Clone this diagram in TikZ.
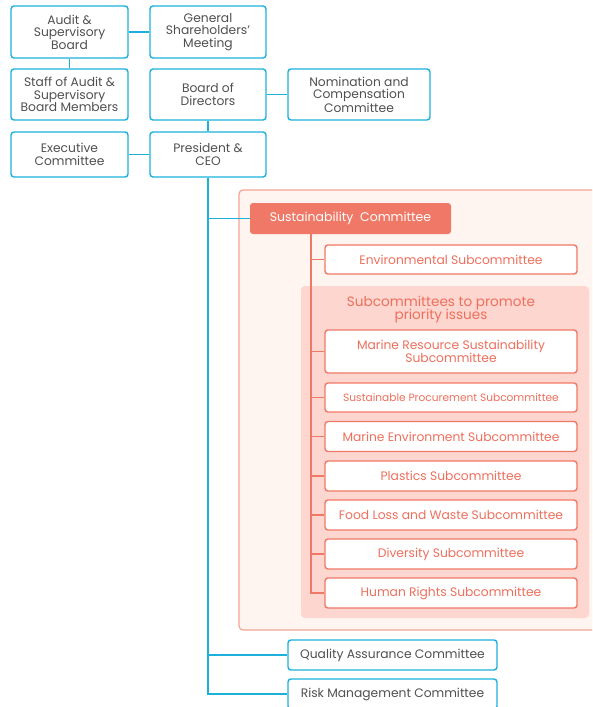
\documentclass[tikz,border=0pt]{standalone}
\usepackage{fontspec}
\setmainfont{Poppins}
\usepackage{tikz}
\usetikzlibrary{calc,positioning}
\usepackage{xcolor}
\definecolor{govblue}{HTML}{1BB1DB}
\definecolor{txtgrey}{HTML}{505050}
\definecolor{salmon}{HTML}{F07866}
\definecolor{salmontxt}{HTML}{EE6F5C}
\definecolor{panelline}{HTML}{F4A595}
\definecolor{panelbg}{HTML}{FEF4F0}
\definecolor{pinkpanel}{HTML}{FDD6D0}

\begin{document}
\begin{tikzpicture}[x=1pt,y=-1pt,
  govbox/.style={draw=govblue,line width=1.4pt,rounded corners=3pt,fill=white,
    text=txtgrey,align=center,inner sep=0pt,font=\fontsize{12.3}{12.5}\selectfont},
  govline/.style={draw=govblue,line width=1.4pt},
  subbox/.style={draw=salmon,line width=1.4pt,rounded corners=3pt,fill=white,
    text=salmontxt,align=center,inner sep=0pt,minimum width=252,minimum height=30,
    font=\fontsize{12.3}{12.5}\selectfont},
  subline/.style={draw=salmon,line width=1.4pt}]

  % Page frame
  \clip (0,0) rectangle (592,707);
  \fill[white] (0,0) rectangle (592,707);

  % Sustainability panels
  \draw[fill=panelbg,draw=panelline,line width=1.2pt,rounded corners=4pt]
    (239,190) rectangle (610,630);
  \fill[pinkpanel,rounded corners=4pt] (301,286) rectangle (589,618);
  \node[text=salmontxt,align=center,font=\fontsize{13.6}{12}\selectfont] (prio) at (441,309.5)
    {Subcommittees to promote\\[-2.5pt]priority issues};

  % Governance boxes
  \node[govbox,minimum width=117,minimum height=52] (audit) at (69.5,32) {Audit \&\\Supervisory\\Board};
  \node[govbox,minimum width=116,minimum height=52] (gsm) at (208,32) {General\\Shareholders'\\Meeting};
  \node[govbox,minimum width=117,minimum height=51] (staff) at (69.5,94.5) {Staff of Audit \&\\Supervisory\\Board Members};
  \node[govbox,minimum width=116,minimum height=51] (bod) at (208,94.5) {Board of\\Directors};
  \node[govbox,minimum width=142,minimum height=51] (nom) at (359,94.5) {Nomination and\\Compensation\\Committee};
  \node[govbox,minimum width=117,minimum height=45] (exec) at (69.5,154.5) {Executive\\Committee};
  \node[govbox,minimum width=116,minimum height=45] (ceo) at (208,154.5) {President \&\\CEO};
  \node[govbox,minimum width=209,minimum height=30] (qa) at (392.5,655) {Quality Assurance Committee};
  \node[govbox,minimum width=209,minimum height=30] (risk) at (392.5,694) {Risk Management Committee};

  % Sustainability committee and subcommittees
  \node[fill=salmon,rounded corners=3pt,text=white,minimum width=201,minimum height=31,
    inner sep=0pt,font=\fontsize{12.5}{12.5}\selectfont] (sc) at (350.5,218.5) {Sustainability\ \ Committee};
  \node[subbox,minimum height=29] (env) at (451,259.5) {Environmental Subcommittee};
  \node[subbox,minimum height=43] (mrs) at (451,351.5) {Marine Resource Sustainability\\Subcommittee};
  \node[subbox,minimum height=29,font=\fontsize{10.6}{11}\selectfont] (sp) at (451,397.5) {Sustainable Procurement Subcommittee};
  \foreach \nm/\yy/\txt in {me/436.5/Marine Environment Subcommittee,
                            pl/476/Plastics Subcommittee,
                            fl/515/Food Loss and Waste Subcommittee,
                            div/554/Diversity Subcommittee,
                            hr/593/Human Rights Subcommittee}
    \node[subbox] (\nm) at (451,\yy) {\txt};

  % Connectors
  \draw[govline] (audit) -- (gsm);
  \draw[govline] (audit) -- (staff);
  \draw[govline] (bod) -- (nom);
  \draw[govline] (bod) -- (ceo);
  \draw[govline] (exec) -- (ceo);
  \draw[govline] (ceo.south) |- (risk.west);
  \foreach \t in {sc,qa}
    \draw[govline] (ceo.south) |- (\t.west);

  \coordinate (spine) at (311,0);
  \draw[subline] (sc.south -| spine) |- (hr.west);
  \foreach \t in {env,mrs,sp,me,pl,fl,div}
    \draw[subline] (sc.south -| spine) |- (\t.west);

\end{tikzpicture}
\end{document}
